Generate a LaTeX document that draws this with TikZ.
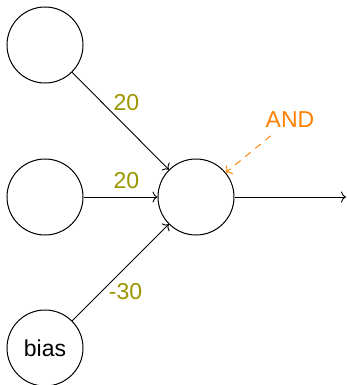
\documentclass[tikz,border=0pt]{standalone}
\usepackage{fontspec}
\setmainfont{Liberation Sans}
\usetikzlibrary{arrows.meta}
\begin{document}
\begin{tikzpicture}[x=1pt,y=-1pt,
  >={To[length=5pt,width=11pt]},
  every node/.style={font=\fontsize{23}{27}\selectfont},
  unit/.style={circle,draw,line width=1pt,minimum size=76pt,inner sep=0pt},
  link/.style={draw,line width=0.9pt,->},
  weight/.style={text={rgb,255:red,155;green,150;blue,0},inner sep=0pt},
  note/.style={text={rgb,255:red,255;green,128;blue,0},inner sep=7.7pt}]
  \useasboundingbox (0,0) rectangle (347,385);
  % input units
  \node[unit] (x1) at (45,45) {};
  \node[unit] (x2) at (45,197) {};
  \node[unit] (b) at (45,348) {bias};
  % output unit
  \node[unit] (n) at (196,197) {};
  \coordinate (out) at (346,197);
  % weighted connections
  \path[link] (x1) -- node[weight,pos=0.5,shift={(6,-18)}] {20} (n);
  \path[link] (x2) -- node[weight,pos=0.5,shift={(6,-16)}] {20} (n);
  \path[link] (b) -- node[weight,pos=0.5,shift={(5,19)}] {-30} (n);
  \path[link] (n) -- (out);
  % annotation
  \node[note] (and) at (290,120) {AND};
  \draw[->,dashed,dash pattern=on 7pt off 6pt,line width=0.9pt,color={rgb,255:red,255;green,128;blue,0}] (and) -- (n);
\end{tikzpicture}
\end{document}
